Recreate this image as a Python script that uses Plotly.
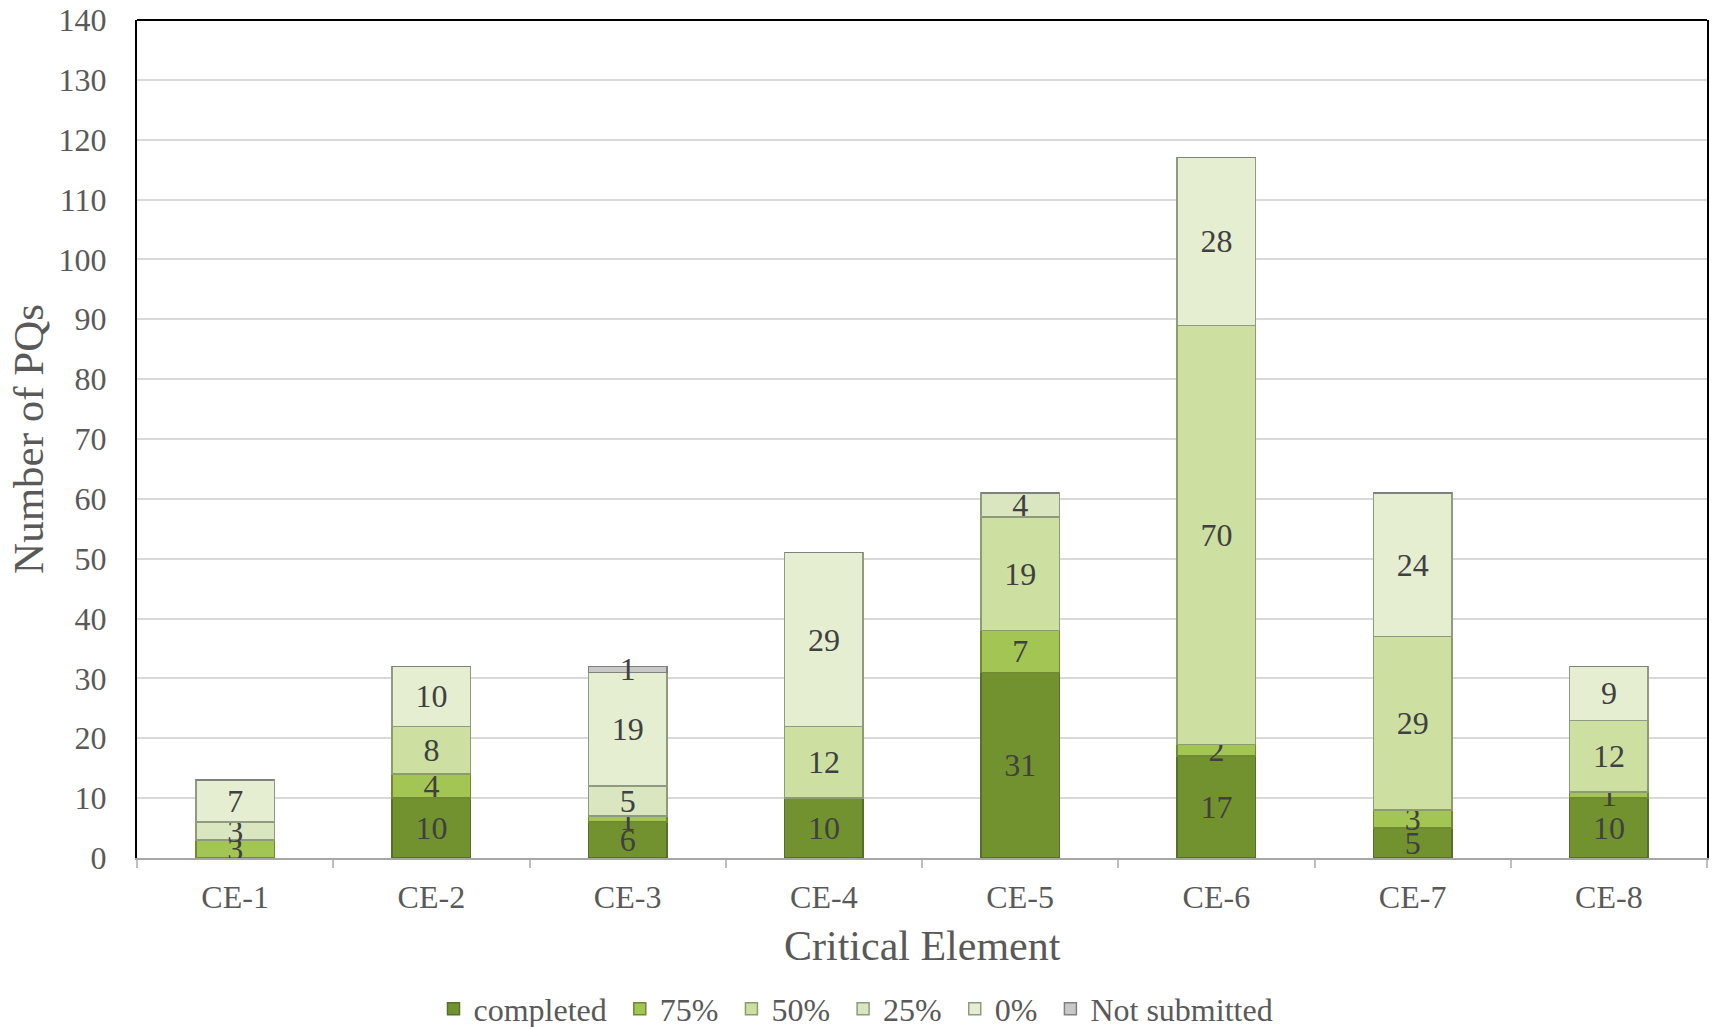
import plotly.graph_objects as go

categories = ["CE-1", "CE-2", "CE-3", "CE-4", "CE-5", "CE-6", "CE-7", "CE-8"]
completed = [0, 10, 6, 10, 31, 17, 5, 10]
p75 = [3, 4, 1, 0, 7, 2, 3, 1]
p50 = [0, 8, 0, 12, 19, 70, 29, 12]
p25 = [3, 0, 5, 0, 4, 0, 0, 0]
p0 = [7, 10, 19, 29, 0, 28, 24, 9]
not_submitted = [0, 0, 1, 0, 0, 0, 0, 0]

series = [
    ("completed", completed, "#72922f", "#55702a"),
    ("75%", p75, "#a3c553", "#6f8a30"),
    ("50%", p50, "#cde0a2", "#8c9c6c"),
    ("25%", p25, "#d9e6c0", "#8f9a7c"),
    ("0%", p0, "#e5eed0", "#8f9a80"),
    ("Not submitted", not_submitted, "#c8c8c8", "#808080"),
]

font_family = "Liberation Serif"
NBSP = "\u00a0"

fig = go.Figure()
for i, (name, vals, color, line) in enumerate(series):
    label = name if i == len(series) - 1 else name + NBSP
    fig.add_trace(go.Bar(
        name=label,
        x=categories,
        y=vals,
        marker=dict(color=color, line=dict(color=line, width=1.5)),
        text=[str(v) if v else "" for v in vals],
        textposition="inside",
        insidetextanchor="middle",
        constraintext="none",
        textangle=0,
        textfont=dict(family=font_family, size=32, color="#404040"),
        hoverinfo="x+y",
    ))

fig.update_layout(
    barmode="stack",
    bargap=0.6,
    width=1712,
    height=1027,
    margin=dict(l=137, r=5, t=20, b=169, autoexpand=False),
    paper_bgcolor="white",
    plot_bgcolor="white",
    font=dict(family=font_family, size=32, color="#595959"),
    showlegend=True,
    legend=dict(
        orientation="h",
        xref="container",
        x=0.5, xanchor="center",
        y=-0.18, yanchor="middle",
        font=dict(family=font_family, size=32, color="#595959"),
        traceorder="normal",
        itemwidth=30,
    ),
    shapes=[dict(type="line", xref="paper", yref="paper", x0=0, x1=1, y0=1, y1=1,
                 line=dict(color="black", width=2))],
    annotations=[
        dict(text="Number of PQs", xref="paper", yref="paper", x=-0.0695, y=0.5,
             xanchor="center", yanchor="middle", textangle=-90, showarrow=False,
             font=dict(family=font_family, size=43, color="#595959")),
        dict(text="Critical Element", xref="paper", yref="paper", x=0.5, y=-0.105,
             xanchor="center", yanchor="middle", showarrow=False,
             font=dict(family=font_family, size=42, color="#595959")),
    ],
)

fig.update_yaxes(
    range=[0, 140],
    dtick=10,
    automargin=False,
    showgrid=True,
    gridcolor="#d9d9d9",
    gridwidth=1.5,
    showline=True,
    linecolor="black",
    linewidth=2,
    mirror=True,
    ticks="",
    ticklabelstandoff=22,
    tickfont=dict(family=font_family, size=32, color="#595959"),
    zeroline=False,
)

fig.update_xaxes(
    automargin=False,
    showline=True,
    linecolor="#a6a6a6",
    linewidth=2,
    mirror=False,
    ticks="outside",
    tickson="boundaries",
    ticklen=8,
    tickcolor="#bfbfbf",
    tickwidth=1.5,
    ticklabelstandoff=10,
    tickfont=dict(family=font_family, size=32, color="#595959"),
)

fig.write_html(
    "out.html",
    config={"displayModeBar": False},
    post_script="document.body.style.margin='0';document.body.style.overflow='hidden';",
)
